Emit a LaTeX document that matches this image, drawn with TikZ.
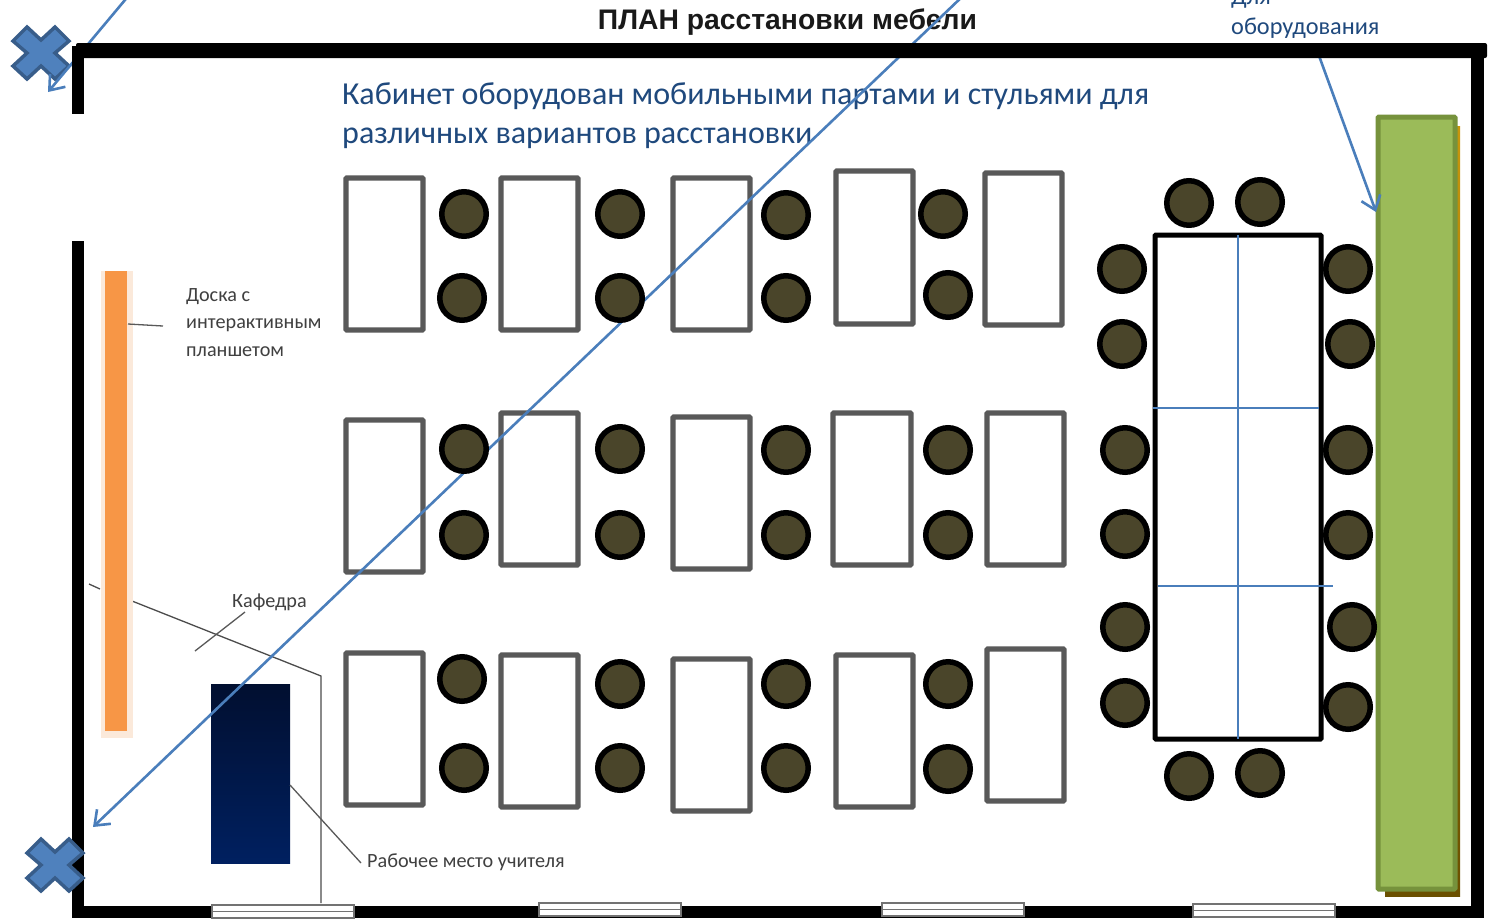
\documentclass[tikz,border=0pt]{standalone}
\usepackage{fontspec}
\setmainfont{Carlito}
\newfontfamily\titlefont{Liberation Sans}
\usetikzlibrary{arrows.meta}
\definecolor{bluetxt}{HTML}{1F497D}
\definecolor{arrowblue}{HTML}{4A7EBB}
\definecolor{deskgray}{HTML}{595959}
\definecolor{stool}{HTML}{4A452A}
\definecolor{lbl}{HTML}{404040}
\definecolor{crossfill}{HTML}{4F81BD}
\definecolor{crossline}{HTML}{385D8A}
\definecolor{greenfill}{HTML}{9BBB59}
\definecolor{greenline}{HTML}{76923C}
\definecolor{boardfill}{HTML}{F79646}
\definecolor{boardedge}{HTML}{FBE9DA}
\definecolor{navytop}{HTML}{010F30}
\definecolor{navybot}{HTML}{002060}
\definecolor{shadowtop}{HTML}{C8960C}
\definecolor{shadowbot}{HTML}{6B5000}
\tikzset{
  x=1pt,y=-1pt,
  desk/.style={draw=deskgray,line width=5.3pt,fill=white,rounded corners=0.8pt},
  seat/.style={circle,draw=black,line width=5.5pt,fill=stool,minimum size=44.5pt,inner sep=0pt},
  wall/.style={fill=black,draw=none},
  winbox/.style={draw=black!55,line width=1.2pt,fill=white},
  leader/.style={draw=black!65,line width=1.3pt},
  ptr/.style={draw=arrowblue,line width=2.6pt,-{Straight Barb[length=13pt,width=20pt,line width=2.6pt]}},
  thin blue/.style={draw=arrowblue,line width=1.8pt},
  crossmark/.style={fill=crossfill,draw=crossline,line width=3.5pt,line join=miter},
  smalltxt/.style={text=lbl,font=\fontsize{20.2}{24}\selectfont,inner sep=0pt,anchor=west},
  bluelabel/.style={text=bluetxt,inner sep=0pt,anchor=west}
}
\newcommand{\xdesk}[5]{\path[desk] (#2,#3) rectangle (#4,#5); \coordinate (#1) at (#2,#3);}
\newcommand{\xcross}[3]{\path[crossmark] (#2-14,#3-26)--(#2,#3-13)--(#2+14,#3-26)--(#2+28,#3-12)--(#2+14,#3)--(#2+28,#3+13)--(#2+14,#3+26)--(#2,#3+13)--(#2-14,#3+26)--(#2-28,#3+13)--(#2-14,#3)--(#2-28,#3-12)--cycle; \coordinate (#1) at (#2,#3);}
\begin{document}
\begin{tikzpicture}
\useasboundingbox (0,0) rectangle (1489,922);
\fill[white] (0,0) rectangle (1489,922);

% text under the pointer
\node[text=black!90,font=\titlefont\bfseries\fontsize{28.3}{30}\selectfont,inner sep=0pt] (title) at (787.5,22) {ПЛАН расстановки мебели};
\node[bluelabel,font=\fontsize{32}{36}\selectfont] (info1) at (342,96) {Кабинет оборудован мобильными партами и стульями для};
\node[bluelabel,font=\fontsize{32}{36}\selectfont] (info2) at (342,138) {различных вариантов расстановки};

% teacher's desk
\path[top color=navytop,bottom color=navybot,draw=none] (211,684) rectangle (290,863);

% partition
\draw[leader,draw=black!70] (132,601) -- (321,676) -- (321,903);
\draw[leader,draw=black!70] (89,584) -- (100,589);

% board
\fill[boardedge] (101,271) rectangle (133,738);
\fill[boardfill] (105,271) rectangle (127,731);

% crosses
\xcross{crossA}{41}{53}

% green cabinet
\path[top color=shadowtop,bottom color=shadowbot,draw=none] (1385,126) rectangle (1460,896);
\path[draw=greenline,line width=5pt,fill=greenfill,rounded corners=1pt] (1378,117) rectangle (1455,889);

% desks
\xdesk{d11}{346}{178}{423}{330}
\xdesk{d12}{501}{178}{578}{330}
\xdesk{d13}{673}{178}{750}{330}
\xdesk{d14}{836}{171}{913}{324}
\xdesk{d15}{985}{173}{1062}{325}
\xdesk{d21}{346}{420}{423}{572}
\xdesk{d22}{501}{413}{578}{565}
\xdesk{d23}{673}{417}{750}{569}
\xdesk{d24}{833}{413}{911}{565}
\xdesk{d25}{987}{413}{1064}{565}
\xdesk{d31}{346}{653}{423}{805}
\xdesk{d32}{501}{655}{578}{807}
\xdesk{d33}{673}{659}{750}{811}
\xdesk{d34}{836}{655}{913}{807}
\xdesk{d35}{987}{649}{1064}{801}

% pointer lines
\coordinate (p1a) at (130,-6);
\coordinate (p1b) at (48,92);
\coordinate (p2a) at (965,-6);
\coordinate (p2b) at (93,827);
\coordinate (p3a) at (1318,53);
\coordinate (p3b) at (1376,212);
\draw[ptr] (p1a) -- (p1b);
\draw[ptr] (p2a) -- (p2b);
\draw[ptr] (p3a) -- (p3b);

% seats
\foreach \n/\x/\y in {a/464/214,b/462/298,c/620/214,d/620/298,e/786/215,f/786/298,g/943/214,h/948/295,
 i/464/449,j/464/535,k/620/449,l/620/535,m/786/450,n/786/535,o/948/450,q/948/535,
 r/462/679,s/464/768,t/620/684,u/620/768,v/786/684,w/786/768,y/948/684,z/948/769,
 A/1189/203,B/1260/202,C/1122/269,D/1122/344,E/1125/450,F/1125/534,G/1125/627,H/1125/703,
 I/1348/269,J/1350/344,K/1348/450,L/1348/535,M/1352/627,N/1348/707,O/1189/776,Q/1260/773}
  \node[seat] (seat\n) at (\x,\y) {};

% conference table
\path[draw=black,line width=5pt,fill=white,rounded corners=0.8pt] (1155,235) rectangle (1321,739);
\coordinate (t1) at (1238,235); \coordinate (t2) at (1238,739);
\coordinate (t3) at (1153,408); \coordinate (t4) at (1319,408);
\coordinate (t5) at (1158,586); \coordinate (t6) at (1333,586);
\draw[thin blue] (t1) -- (t2);
\draw[thin blue] (t3) -- (t4);
\draw[thin blue] (t5) -- (t6);

% walls
\fill[wall] (72,46) rectangle (84,114);
\fill[wall] (72,241) rectangle (84,917);
\fill[wall,rounded corners=2pt] (76,43) rectangle (1487,58);
\fill[wall] (1471,50) rectangle (1484,918);
\fill[wall] (72,906) rectangle (1484,918);

% windows
\foreach \n/\x/\y in {1/212/905,2/539/903,3/882/903,4/1193/904}{
  \path[winbox] (\x,\y) rectangle (\x+142,\y+13);
  \draw[black!55,line width=1.2pt] (\x,\y+6.5) -- (\x+142,\y+6.5);
}

\xcross{crossB}{55}{865}

% leaders
\coordinate (l1a) at (128,324); \coordinate (l1b) at (163,326);
\coordinate (l2a) at (195,651); \coordinate (l2b) at (245,612);
\coordinate (l3a) at (290,785); \coordinate (l3b) at (361,863);
\draw[leader] (l1a) -- (l1b);
\draw[leader] (l2a) -- (l2b);
\draw[leader] (l3a) -- (l3b);

% labels
\node[bluelabel,font=\fontsize{24.3}{28}\selectfont] (eq1) at (1231,-1) {Для};
\node[bluelabel,font=\fontsize{24.3}{28}\selectfont] (eq2) at (1231,28) {оборудования};
\node[smalltxt] (lab1) at (186,297) {Доска с};
\node[smalltxt] (lab2) at (186,325) {интерактивным};
\node[smalltxt] (lab3) at (186,352) {планшетом};
\node[smalltxt] (lab4) at (232,602) {Кафедра};
\node[smalltxt] (lab5) at (367,862) {Рабочее место учителя};
\end{tikzpicture}
\end{document}
